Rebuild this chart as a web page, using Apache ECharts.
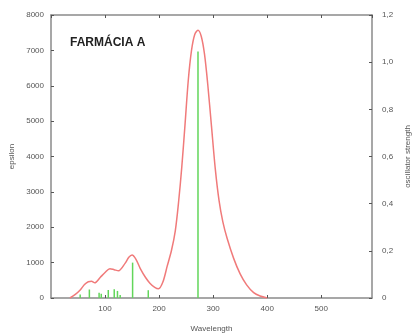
<!DOCTYPE html>
<html>
<head>
<meta charset="utf-8">
<script src="https://cdn.jsdelivr.net/npm/echarts@6/dist/echarts.min.js"></script>
<style>
  html, body { margin: 0; padding: 0; background: #fff; }
  #chart { width: 412px; height: 334px; }
</style>
</head>
<body>
<div id="chart"></div>
<script>
// absorption spectrum: [wavelength, epsilon]
const spectrum = [
  [35, 0], [45, 100], [54, 225], [62, 380], [69, 460], [75, 470], [81, 430],
  [91, 580], [100, 720], [109, 830], [117, 800], [125, 770], [137, 980],
  [144, 1150], [150, 1215], [157, 1100], [165, 840], [175, 580], [183, 420],
  [192, 300], [199, 260], [207, 450], [215, 900], [223, 1350], [230, 1900],
  [236, 2700], [242, 3700], [248, 4900], [254, 6150], [260, 7000], [266, 7450],
  [272, 7570], [278, 7400], [284, 6900], [290, 6050], [297, 4850], [304, 3650],
  [311, 2750], [318, 2150], [326, 1680], [338, 1120], [350, 680], [362, 370],
  [375, 150], [387, 55], [400, 0]
];
// transitions: [wavelength, oscillator strength]
const transitions = [
  [54, 0.015], [71, 0.036], [89, 0.022], [93, 0.018], [106, 0.034],
  [117, 0.037], [123, 0.03], [128, 0.013], [151, 0.15], [180, 0.033],
  [272, 1.045]
];
const epsilonTicks = [0, 8000, 1000];
const strengthTicks = [0, 1.2, 0.2];

const chart = echarts.init(document.getElementById('chart'));
const labelStyle = { color: '#555', fontSize: 8, fontFamily: 'Liberation Sans' };
const lineStyle = { color: '#8a8a8a', width: 1.5 };
const tick = { show: true, inside: true, length: 3, lineStyle: { color: '#555' } };

chart.setOption({
  animation: false,
  title: {
    text: 'FARMÁCIA A',
    left: 65, top: 32,
    textStyle: { fontSize: 12, fontWeight: 'bold', color: '#222', fontFamily: 'Liberation Sans' }
  },
  grid: { left: 51, right: 40, top: 15, bottom: 36, outerBoundsMode: 'none' },
  xAxis: [
    {
      type: 'value', min: 0, max: 594, interval: 100,
      name: 'Wavelength', nameLocation: 'middle', nameGap: 27,
      nameTextStyle: labelStyle,
      axisLine: { onZero: false, lineStyle },
      axisTick: tick,
      axisLabel: Object.assign({ showMinLabel: false, showMaxLabel: false, margin: 7 }, labelStyle),
      splitLine: { show: false }
    },
    {
      type: 'value', position: 'top', min: 0, max: 594, interval: 100,
      axisLine: { show: true, onZero: false, lineStyle },
      axisTick: tick,
      axisLabel: { show: false },
      splitLine: { show: false }
    }
  ],
  yAxis: [
    {
      type: 'value', min: epsilonTicks[0], max: epsilonTicks[1], interval: epsilonTicks[2],
      name: 'epsilon', nameLocation: 'middle', nameGap: 34,
      nameTextStyle: labelStyle,
      axisLine: { show: true, onZero: false, lineStyle },
      axisTick: tick,
      axisLabel: Object.assign({ margin: 7, formatter: v => String(v) }, labelStyle),
      splitLine: { show: false }
    },
    {
      type: 'value', position: 'right',
      min: strengthTicks[0], max: strengthTicks[1], interval: strengthTicks[2],
      name: 'oscillator strength', nameLocation: 'middle', nameGap: 32,
      nameTextStyle: labelStyle,
      axisLine: { show: true, onZero: false, lineStyle },
      axisTick: tick,
      axisLabel: Object.assign({
        margin: 10,
        formatter: v => v === 0 ? '0' : v.toFixed(1).replace('.', ',')
      }, labelStyle),
      splitLine: { show: false }
    }
  ],
  series: [
    {
      type: 'bar', yAxisIndex: 1,
      data: transitions,
      barWidth: 1.5,
      itemStyle: { color: '#62d65a' }
    },
    {
      type: 'line', yAxisIndex: 0,
      data: spectrum,
      smooth: 0.3,
      showSymbol: false,
      lineStyle: { color: '#f07a7a', width: 1.5 }
    }
  ]
});
</script>
</body>
</html>
